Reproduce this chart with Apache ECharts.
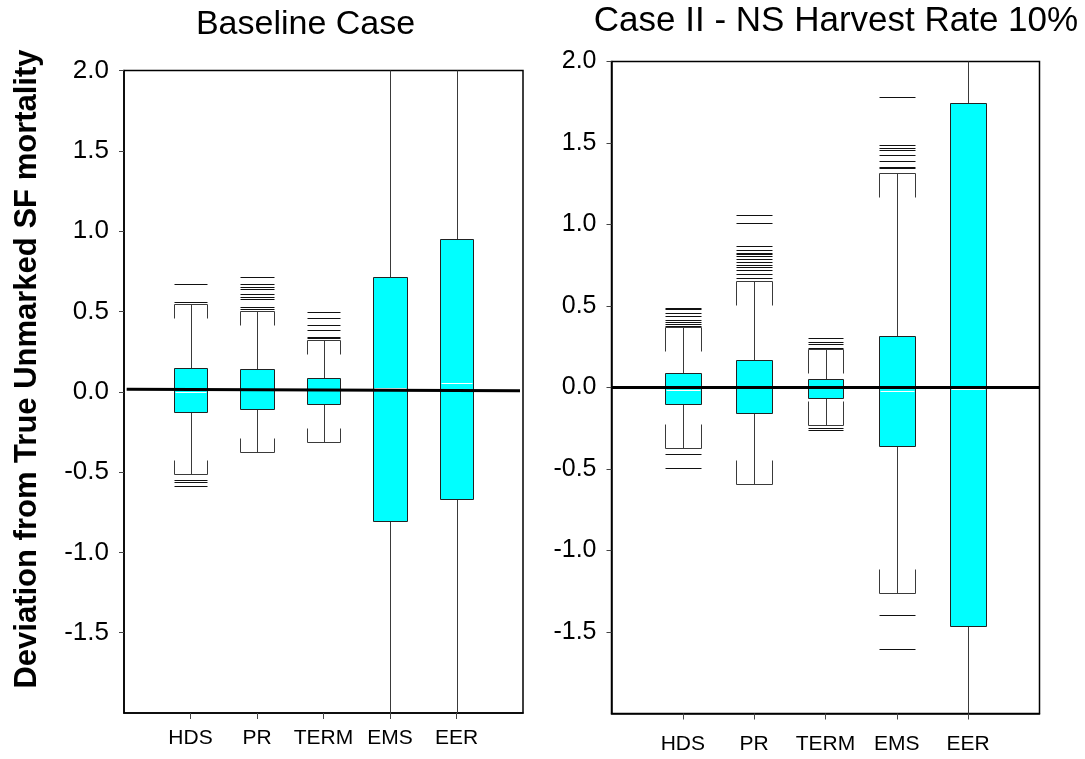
<!DOCTYPE html>
<html>
<head>
<meta charset="utf-8">
<script src="https://cdn.jsdelivr.net/npm/echarts@6/dist/echarts.min.js"></script>
<style>
html,body{margin:0;padding:0;background:#fff;}
#chart{width:1085px;height:759px;}
</style>
</head>
<body>
<div id="chart"></div>
<script>
// ---------- data ----------
const categories = ['HDS', 'PR', 'TERM', 'EMS', 'EER'];
const yTickValues = [-1.5, -1.0, -0.5, 0.0, 0.5, 1.0, 1.5, 2.0];
const titles = ['Baseline Case', 'Case II - NS Harvest Rate 10%'];
const yTitle = 'Deviation from True Unmarked SF mortality';

// Baseline case (whiskers of EMS / EER run past the plotted range)
const baseLow  = [-0.509, -0.373, -0.310, -2.5, -2.5];
const baseQ1   = [-0.123, -0.106, -0.075, -0.807, -0.665];
const baseMed  = [0.000, 0.010, 0.010, 0.022, 0.052];
const baseQ3   = [0.145, 0.143, 0.085, 0.712, 0.952];
const baseHigh = [0.547, 0.501, 0.320, 2.5, 2.5];
const baseOutliers = [
  [0.559, 0.668, -0.547, -0.561, -0.588],
  [0.515, 0.528, 0.575, 0.590, 0.609, 0.642, 0.650, 0.668, 0.714],
  [0.333, 0.343, 0.387, 0.414, 0.460, 0.495],
  [],
  []
];
const baseRef = [[0.04, 0.015], [5.955, 0.006]];

// Case II - NS harvest rate 10%
const caseLow  = [-0.372, -0.593, -0.229, -1.261, -2.5];
const caseQ1   = [-0.100, -0.157, -0.063, -0.356, -1.464];
const caseMed  = [-0.016, 0.000, 0.000, -0.022, -0.010];
const caseQ3   = [0.088, 0.166, 0.055, 0.315, 1.745];
const caseHigh = [0.370, 0.655, 0.237, 1.313, 2.5];
const caseOutliers = [
  [0.380, 0.391, 0.401, 0.415, 0.436, 0.456, 0.479, 0.489, -0.407, -0.493],
  [0.669, 0.699, 0.718, 0.739, 0.751, 0.771, 0.791, 0.804, 0.816, 0.828, 0.845, 0.871, 1.012, 1.058],
  [0.245, 0.266, 0.279, 0.301, -0.249, -0.260],
  [1.346, 1.352, 1.391, 1.426, 1.456, 1.472, 1.485, 1.782, -1.396, -1.603],
  []
];
const caseRef = [[0, 0.0], [6, 0.0]];

// ---------- helpers ----------
function boxData(low, q1, med, q3, high) {
  return categories.map((c, i) => [i + 1, low[i], q1[i], med[i], q3[i], high[i]]);
}
function outlierData(out) {
  const d = [];
  out.forEach((arr, i) => arr.forEach(v => d.push([i + 1, v])));
  return d;
}
const FONT = '"Liberation Sans", Arial, Helvetica, sans-serif';
const BOX_W = 0.5;
const px = v => Math.round(v) + 0.5;

function makeBoxRender(capLen) {
  return function (params, api) {
    const x = api.value(0);
    const w = api.size([BOX_W, 0])[0];
    const half = w / 2;
    const pLow = api.coord([x, api.value(1)]);
    const pQ1 = api.coord([x, api.value(2)]);
    const pMed = api.coord([x, api.value(3)]);
    const pQ3 = api.coord([x, api.value(4)]);
    const pHigh = api.coord([x, api.value(5)]);
    const cx = px(pQ1[0]);
    const l = Math.round(pQ1[0] - half) + 0.5, r = Math.round(pQ1[0] + half) + 0.5;
    const yH = px(pHigh[1]), yL = px(pLow[1]), y3 = px(pQ3[1]), y1 = px(pQ1[1]), yM = px(pMed[1]);
    const wStyle = { stroke: '#3a3a3a', lineWidth: 1, fill: null };
    return {
      type: 'group',
      children: [
        { type: 'line', shape: { x1: cx, y1: y3, x2: cx, y2: yH }, style: wStyle },
        { type: 'line', shape: { x1: cx, y1: y1, x2: cx, y2: yL }, style: wStyle },
        { type: 'polyline', shape: { points: [[l, yH + capLen], [l, yH], [r, yH], [r, yH + capLen]] }, style: wStyle },
        { type: 'polyline', shape: { points: [[l, yL - capLen], [l, yL], [r, yL], [r, yL - capLen]] }, style: wStyle },
        { type: 'rect', shape: { x: l, y: y3, width: r - l, height: y1 - y3 },
          style: { fill: '#00FFFF', stroke: '#222', lineWidth: 1 } },
        { type: 'line', shape: { x1: l + 1, y1: yM, x2: r - 1, y2: yM }, style: { stroke: '#ffffff', lineWidth: 1 } }
      ]
    };
  };
}
function outlierRender(params, api) {
  const x = api.value(0);
  const w = api.size([BOX_W, 0])[0];
  const p = api.coord([x, api.value(1)]);
  const y = px(p[1]);
  return {
    type: 'line',
    shape: { x1: Math.round(p[0] - w / 2) + 0.5, y1: y, x2: Math.round(p[0] + w / 2) + 0.5, y2: y },
    style: { stroke: '#111', lineWidth: 1 }
  };
}

const grids = [
  { left: 124, top: 70.5, width: 399, height: 642.5 },
  { left: 611.5, top: 61.5, width: 428, height: 652 }
];
const xLabelMargin = [15, 20];
const yLabelSize = [26, 25];

function xAxis(i) {
  return {
    gridIndex: i, type: 'value', min: 0, max: 6, interval: 1,
    axisLine: { show: true, onZero: false, lineStyle: { color: '#000', width: 1.5 } },
    axisTick: { show: true, customValues: [1, 2, 3, 4, 5], length: 6, lineStyle: { color: '#444', width: 1 } },
    axisLabel: { customValues: [1, 2, 3, 4, 5], formatter: v => categories[Math.round(v) - 1] || '',
      fontFamily: FONT, fontSize: 21, color: '#000', margin: xLabelMargin[i] },
    splitLine: { show: false }
  };
}
function yAxis(i) {
  return {
    gridIndex: i, type: 'value', min: -2, max: 2, interval: 0.5,
    axisLine: { show: true, lineStyle: { color: '#000', width: 1.5 } },
    axisTick: { show: true, customValues: yTickValues, length: 5, lineStyle: { color: '#444', width: 1 } },
    axisLabel: { customValues: yTickValues, formatter: v => Number(v).toFixed(1),
      fontFamily: FONT, fontSize: yLabelSize[i], color: '#000', margin: 15 },
    splitLine: { show: false }
  };
}

const option = {
  animation: false,
  backgroundColor: '#ffffff',
  grid: grids.map(g => Object.assign({ show: true, borderColor: '#000', borderWidth: 1.5, backgroundColor: 'transparent' }, g)),
  xAxis: [xAxis(0), xAxis(1)],
  yAxis: [yAxis(0), yAxis(1)],
  graphic: [
    { type: 'text', x: 305.5, y: 24.5, style: { text: titles[0], font: '34px ' + FONT, fill: '#000', align: 'center', verticalAlign: 'middle' } },
    { type: 'text', x: 836, y: 21.5, style: { text: titles[1], font: '35px ' + FONT, fill: '#000', align: 'center', verticalAlign: 'middle' } },
    { type: 'text', x: 27, y: 369, rotation: Math.PI / 2, style: { text: yTitle, font: 'bold 31px ' + FONT, fill: '#000', align: 'center', verticalAlign: 'middle' } }
  ],
  series: [
    { type: 'custom', xAxisIndex: 0, yAxisIndex: 0, clip: true, renderItem: makeBoxRender(14),
      data: boxData(baseLow, baseQ1, baseMed, baseQ3, baseHigh), z: 2 },
    { type: 'custom', xAxisIndex: 0, yAxisIndex: 0, clip: true, renderItem: outlierRender,
      data: outlierData(baseOutliers), z: 2 },
    { type: 'line', xAxisIndex: 0, yAxisIndex: 0, data: baseRef, symbol: 'none',
      lineStyle: { color: '#000', width: 3 }, z: 5, silent: true },
    { type: 'custom', xAxisIndex: 1, yAxisIndex: 1, clip: true, renderItem: makeBoxRender(24),
      data: boxData(caseLow, caseQ1, caseMed, caseQ3, caseHigh), z: 2 },
    { type: 'custom', xAxisIndex: 1, yAxisIndex: 1, clip: true, renderItem: outlierRender,
      data: outlierData(caseOutliers), z: 2 },
    { type: 'line', xAxisIndex: 1, yAxisIndex: 1, data: caseRef, symbol: 'none',
      lineStyle: { color: '#000', width: 3 }, z: 5, silent: true }
  ]
};
const chart = echarts.init(document.getElementById('chart'), null, { renderer: 'canvas' });
chart.setOption(option);
</script>
</body>
</html>
